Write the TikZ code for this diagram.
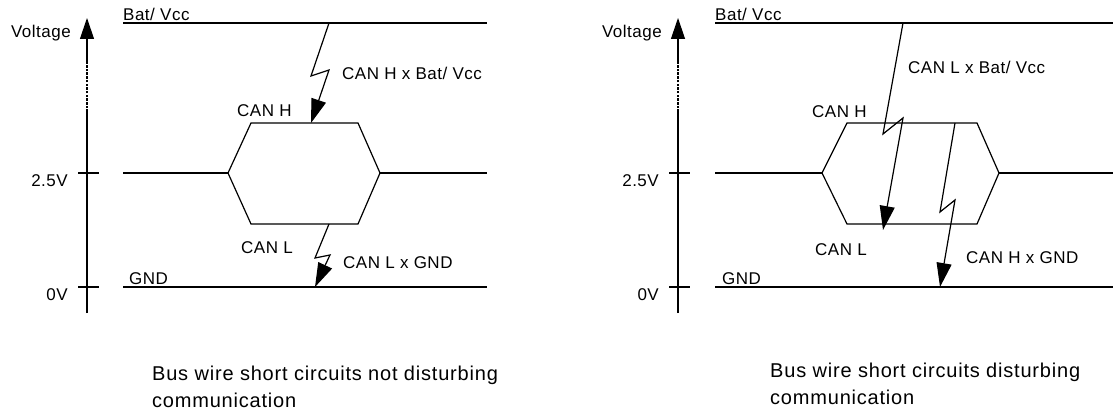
\documentclass[tikz,border=0pt]{standalone}
\usepackage{fontspec}
\setmainfont{Liberation Sans}
\usetikzlibrary{arrows.meta}

\tikzset{
  wire/.style={line width=1.2pt},
  zap/.style={line width=1.2pt,-{Triangle[length=24pt,width=15pt]}},
  lbl/.style={inner sep=0pt,anchor=base west,font=\fontsize{17}{20}\selectfont\addfontfeature{LetterSpace=3}},
  vlbl/.style={lbl,anchor=base east},
  captxt/.style={inner sep=0pt,anchor=north west,align=left,font=\fontsize{20}{27}\selectfont\addfontfeature{LetterSpace=4}},
}

\begin{document}
\begin{tikzpicture}[x=1pt,y=-1pt]
\useasboundingbox (0,0) rectangle (1113,414);
% voltage axes
\foreach \s in {0,591}{\begin{scope}[shift={(\s,0)}]
\coordinate (axb\s) at (87,313);\coordinate (axd\s) at (87,112);\coordinate (axu\s) at (87,62);\coordinate (axt\s) at (87,18);
\draw[wire] (axb\s)--(axd\s);\draw[line width=1.1pt,dash pattern=on 2.5pt off 1.2pt] (axd\s)--(axu\s);
\draw[wire,-{Triangle[length=21pt,width=14pt]}] (axu\s)--(axt\s);
\draw[wire] (78,173)--(99,173);\draw[wire] (78,287)--(99,287);
\node[vlbl] (volt\s) at (71,38){Voltage};
\node[vlbl] (half\s) at (68,187){2.5V};
\node[vlbl] (zero\s) at (68,300){0V};
\end{scope}}
% left: not disturbing
\coordinate (batLa) at (123,23);\coordinate (batLb) at (487,23);
\coordinate (gndLa) at (123,287);\coordinate (gndLb) at (487,287);
\coordinate (midLa) at (123,173);\coordinate (midLb) at (487,173);
\coordinate (hwL) at (228,173);\coordinate (hnwL) at (251,123);\coordinate (hneL) at (358,123);
\coordinate (heL) at (380,173);\coordinate (hseL) at (358,224);\coordinate (hswL) at (251,224);
\draw[wire] (batLa)--(batLb);\draw[wire] (gndLa)--(gndLb);
\draw[wire] (midLa)--(hwL);\draw[wire] (heL)--(midLb);
\draw[wire] (hwL)--(hnwL)--(hneL)--(heL)--(hseL)--(hswL)--cycle;
\node[lbl] (batLtxt) at (123,21){Bat/ Vcc};
\node[lbl] (gndLtxt) at (129,284){GND};
\node[lbl] (canhL) at (237,117){CAN H};
\node[lbl] (canlL) at (241,253){CAN L};
\coordinate (za0) at (329,23);\coordinate (za1) at (311,76);\coordinate (za2) at (329,70);\coordinate (za3) at (311,123);
\draw[zap] (za0)--(za1)--(za2)--(za3);
\coordinate (zb0) at (329,224);\coordinate (zb1) at (315,258);\coordinate (zb2) at (330,255);\coordinate (zb3) at (315,287);
\draw[zap] (zb0)--(zb1)--(zb2)--(zb3);
\node[lbl] (zaL) at (342,80){CAN H x Bat/ Vcc};
\node[lbl] (zbL) at (343,268){CAN L x GND};
\node[captxt] (capL) at (152,366){Bus wire short circuits not disturbing\\communication};
% right: disturbing
\coordinate (batRa) at (715,23);\coordinate (batRb) at (1113,23);
\coordinate (gndRa) at (715,287);\coordinate (gndRb) at (1113,287);
\coordinate (midRa) at (715,173);\coordinate (midRb) at (1113,173);
\coordinate (hwR) at (822,173);\coordinate (hnwR) at (847,123);\coordinate (hneR) at (977,123);
\coordinate (heR) at (999,173);\coordinate (hseR) at (977,224);\coordinate (hswR) at (847,224);
\draw[wire] (batRa)--(batRb);\draw[wire] (gndRa)--(gndRb);
\draw[wire] (midRa)--(hwR);\draw[wire] (heR)--(midRb);
\draw[wire] (hwR)--(hnwR)--(hneR)--(heR)--(hseR)--(hswR)--cycle;
\node[lbl] (batRtxt) at (715,21){Bat/ Vcc};
\node[lbl] (gndRtxt) at (722,284){GND};
\node[lbl] (canhR) at (812,118){CAN H};
\node[lbl] (canlR) at (815,255){CAN L};
\coordinate (zc0) at (903,23);\coordinate (zc1) at (883,134);\coordinate (zc2) at (903,118);\coordinate (zc3) at (883,230);
\draw[zap] (zc0)--(zc1)--(zc2)--(zc3);
\coordinate (zd0) at (955,123);\coordinate (zd1) at (940,212);\coordinate (zd2) at (955,200);\coordinate (zd3) at (940,287);
\draw[zap] (zd0)--(zd1)--(zd2)--(zd3);
\node[lbl] (zcR) at (908,74){CAN L x Bat/ Vcc};
\node[lbl] (zdR) at (966,263){CAN H x GND};
\node[captxt] (capR) at (770,363){Bus wire short circuits disturbing\\communication};
\end{tikzpicture}
\end{document}
